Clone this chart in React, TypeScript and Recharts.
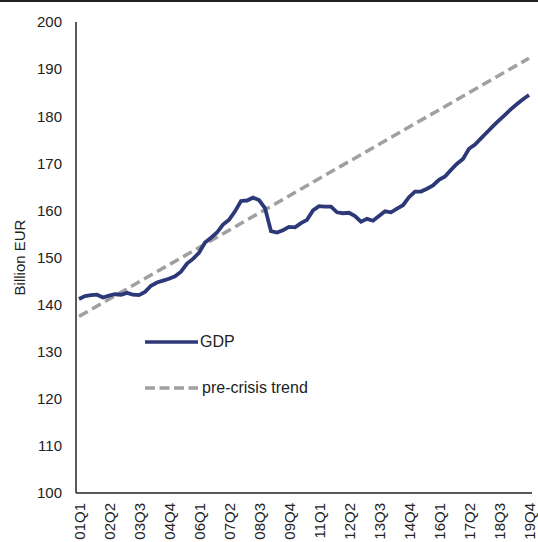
import React from 'react';
import { LineChart, Line, XAxis, YAxis } from 'recharts';

const quarters: string[] = [];
for (let y = 1; y <= 19; y++) {
  for (let q = 1; q <= 4; q++) quarters.push(`${String(y).padStart(2, '0')}Q${q}`);
}

const gdp = [
  141.2, 141.8, 142.0, 142.1, 141.5, 141.9, 142.2, 142.1, 142.5, 142.1,
  142.0, 142.7, 144.0, 144.7, 145.1, 145.5, 146.0, 147.0, 148.7, 149.7,
  151.0, 153.2, 154.2, 155.3, 157.0, 158.0, 159.8, 162.0, 162.1, 162.7,
  162.2, 160.5, 155.6, 155.3, 155.8, 156.5, 156.4, 157.3, 158.0, 160.0,
  160.9, 160.8, 160.8, 159.6, 159.4, 159.5, 158.8, 157.6, 158.2, 157.8,
  158.8, 159.8, 159.6, 160.4, 161.1, 162.8, 164.0, 164.0, 164.6, 165.3,
  166.5, 167.2, 168.6, 169.9, 170.9, 173.1, 174.0, 175.3, 176.6, 177.9,
  179.1, 180.3, 181.5, 182.6, 183.6, 184.5,
];

// straight trend: only the two end values, joined by connectNulls
const trendStart = 137.5;
const trendEnd = 192.3;

const yTicks = [100, 110, 120, 130, 140, 150, 160, 170, 180, 190, 200];

const GDP_COLOR = '#2c3877';
const TREND_COLOR = '#a0a0a0';
const FONT = '"Liberation Sans", Arial, sans-serif';

const chartData = quarters.map((q, i) => ({
  quarter: q,
  gdp: gdp[i],
  trend: i === 0 ? trendStart : i === quarters.length - 1 ? trendEnd : null,
}));

const XTick = (props: any) => {
  const { x, y, payload } = props;
  return (
    <g transform={`translate(${x + 1},${y})`}>
      <text transform="rotate(-90)" textAnchor="end" dy="0.35em" fill="#222" fontSize={15} fontFamily={FONT}>
        {payload.value}
      </text>
    </g>
  );
};

// legend sits inside the plot, drawn as an overlay so it takes no layout space
const LegendBox = () => (
  <svg width={200} height={70} style={{ position: 'absolute', left: 145, top: 330 }}>
    <line x1={0} y1={12} x2={53} y2={12} stroke={GDP_COLOR} strokeWidth={3.5} />
    <text x={55} y={17} fontSize={16} fill="#222" fontFamily={FONT}>GDP</text>
    <line x1={0} y1={58} x2={53} y2={58} stroke={TREND_COLOR} strokeWidth={3.5} strokeDasharray="10 4.5" />
    <text x={57} y={63} fontSize={16} fill="#222" fontFamily={FONT}>pre-crisis trend</text>
  </svg>
);

export default function App() {
  return (
    <div style={{ position: 'absolute', left: 0, top: 0, width: 538, height: 542, background: '#fff' }}>
      <div style={{ position: 'absolute', left: 0, top: 0, width: 538, height: 2, background: '#222' }} />
      <LineChart width={538} height={542} data={chartData} margin={{ top: 22, right: 6, left: 0, bottom: 0 }}>
        <XAxis
          dataKey="quarter"
          interval={4}
          tick={<XTick />}
          tickLine={false}
          tickSize={0}
          tickMargin={10}
          height={49}
          padding={{ left: 3, right: 3 }}
          axisLine={{ stroke: '#222', strokeWidth: 1.5 }}
        />
        <YAxis
          domain={[100, 200]}
          ticks={yTicks}
          width={76}
          tickLine={false}
          tickSize={0}
          tickMargin={14}
          axisLine={{ stroke: '#222', strokeWidth: 1.5 }}
          tick={{ fill: '#222', fontSize: 15, fontFamily: FONT }}
          label={{ value: 'Billion EUR', angle: -90, position: 'insideLeft', offset: 20, style: { fill: '#222', fontSize: 15, fontFamily: FONT, textAnchor: 'middle' } }}
        />
        <Line
          dataKey="trend"
          connectNulls
          stroke={TREND_COLOR}
          strokeWidth={3.5}
          strokeDasharray="10 5"
          dot={false}
          isAnimationActive={false}
        />
        <Line
          dataKey="gdp"
          stroke={GDP_COLOR}
          strokeWidth={3.8}
          dot={false}
          isAnimationActive={false}
        />
      </LineChart>
      <LegendBox />
    </div>
  );
}
